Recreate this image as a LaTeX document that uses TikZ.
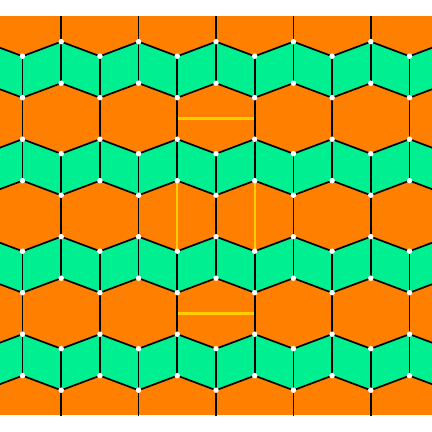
\documentclass[tikz,border=0pt]{standalone}
\definecolor{hexorange}{RGB}{255,127,0}
\definecolor{bandgreen}{RGB}{0,240,145}
\definecolor{cellyellow}{RGB}{255,205,0}
\begin{document}
\begin{tikzpicture}[x=1pt,y=-1pt,
  edge/.style={black,line width=1.7pt},
  vertexdot/.style={fill=white,draw=none,circle,inner sep=0pt,minimum size=5.5pt},
  cellline/.style={cellyellow,line width=2.2pt}]
\useasboundingbox (0,0) rectangle (432,432);
\begin{scope}
\clip (0,16) rectangle (432,415);
\fill[hexorange] (0,16) rectangle (432,415);
% green bands of parallelograms
\foreach \k/\p in {1/1,2/0,3/1,4/0} {
  \pgfmathsetmacro\T{41.7+(\k-1)*97.5}
  \foreach \i in {-1,...,10} {
    \pgfmathsetmacro\xa{22.5+38.7*\i}
    \pgfmathsetmacro\xb{\xa+38.7}
    \pgfmathsetmacro\ya{\T+14.5*mod(\i+2-\p,2)}
    \pgfmathsetmacro\yb{\T+14.5*mod(\i+3-\p,2)}
    \fill[bandgreen] (\xa,\ya) -- (\xb,\yb) -- (\xb,\yb+41.5) -- (\xa,\ya+41.5) -- cycle;
  }
}
% yellow cell lines
\coordinate (yA1) at (177.3,118.45);
\coordinate (yA2) at (254.7,118.45);
\coordinate (yB1) at (177.3,180.7);
\coordinate (yB2) at (177.3,251.2);
\coordinate (yC1) at (254.7,180.7);
\coordinate (yC2) at (254.7,251.2);
\coordinate (yD1) at (177.3,313.45);
\coordinate (yD2) at (254.7,313.45);
\draw[cellline] (yA1) -- (yA2);
\draw[cellline] (yB1) -- (yB2);
\draw[cellline] (yC1) -- (yC2);
\draw[cellline] (yD1) -- (yD2);
% black edges
\foreach \k/\p in {1/1,2/0,3/1,4/0} {
  \pgfmathsetmacro\T{41.7+(\k-1)*97.5}
  \foreach \i in {-1,...,11} {
    \pgfmathsetmacro\xa{22.5+38.7*\i}
    \pgfmathsetmacro\xb{\xa+38.7}
    \pgfmathtruncatemacro\m{mod(\i+2-\p,2)}
    \pgfmathsetmacro\ya{\T+14.5*\m}
    \pgfmathsetmacro\yb{\T+14.5*mod(\i+3-\p,2)}
    \draw[edge] (\xa,\ya) -- (\xb,\yb);
    \draw[edge] (\xa,\ya+41.5) -- (\xb,\yb+41.5);
    \draw[edge] (\xa,\ya) -- (\xa,\ya+41.5);
    \ifnum\m=1
      \draw[edge] (\xa,\ya+41.5) -- (\xa,\T+97.5);
    \else
      \ifnum\k=1
        \draw[edge] (\xa,\ya) -- (\xa,\ya-41.5);
      \fi
    \fi
  }
}
% vertex dots
\foreach \k/\p in {1/1,2/0,3/1,4/0} {
  \pgfmathsetmacro\T{41.7+(\k-1)*97.5}
  \foreach \i in {-1,...,11} {
    \pgfmathsetmacro\xa{22.5+38.7*\i}
    \pgfmathsetmacro\ya{\T+14.5*mod(\i+2-\p,2)}
    \node[vertexdot] at (\xa,\ya) {};
    \node[vertexdot] at (\xa,\ya+41.5) {};
  }
}
\end{scope}
\end{tikzpicture}
\end{document}
